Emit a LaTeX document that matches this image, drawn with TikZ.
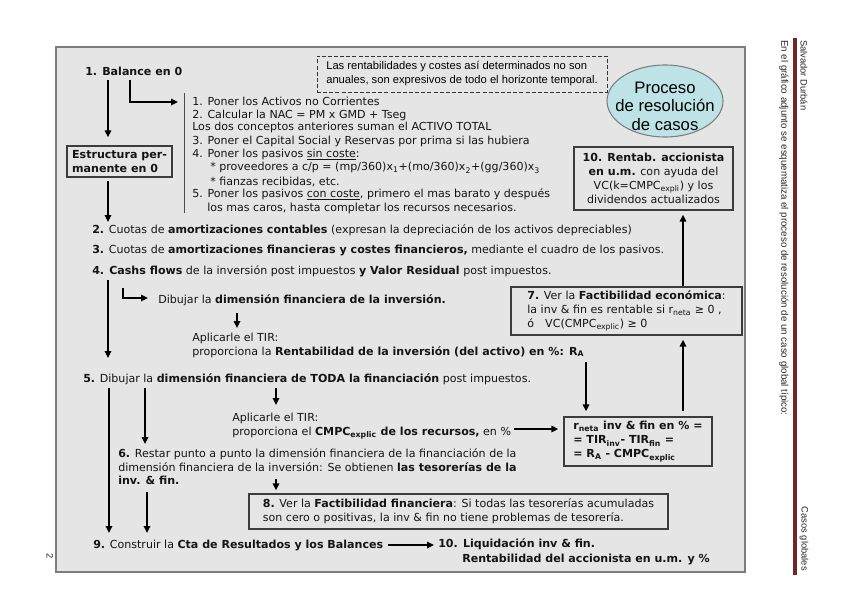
\documentclass[tikz,border=0pt]{standalone}
\usepackage{fontspec}
\setmainfont{DejaVu Sans}
\newfontfamily\arialf{Liberation Sans}
\usetikzlibrary{
  arrows.meta,
  calc,
  shapes.geometric
}
\definecolor{framefill}{RGB}{229,229,229}
\definecolor{framedraw}{RGB}{125,125,125}
\definecolor{boxdraw}{RGB}{60,60,60}
\definecolor{ellfill}{RGB}{190,227,231}
\definecolor{rulered}{RGB}{115,38,38}
\definecolor{txtcol}{RGB}{20,20,20}

\begin{document}
\begin{tikzpicture}[
  x=0.75pt, y=-0.75pt,
  txt/.style={anchor=base west, inner sep=0pt, font=\fontsize{8.3}{10.5}\selectfont, text=txtcol},
  box/.style={draw=boxdraw, line width=1pt, inner sep=0pt, align=left, font=\fontsize{8.3}{10.5}\selectfont, text=txtcol},
  arr/.style={-{Triangle[length=5.2pt, width=4.8pt]}, line width=1.3pt},
  side/.style={rotate=-90, inner sep=0pt, font=\arialf\fontsize{7}{8}\selectfont, text=black!85},
]
\useasboundingbox (0,0) rectangle (848,599);

% --- page header (rotated) ---
\draw[rulered, line width=2.4pt] (795,38) -- (795,575);
\node[side, anchor=west] (autor) at (804,40) {Salvador Durbán};
\node[side, anchor=east] (tema) at (804,571) {Casos globales};
\node[side, anchor=west, font=\arialf\fontsize{7.3}{9}\selectfont] (intro) at (784,40)
  {En el gráfico adjunto se esquematiza el proceso de resolución de un caso global típico:};
\node[side, anchor=center] (pag) at (50,556) {2};

% --- frame ---
\draw[framedraw, line width=1.7pt, fill=framefill] (56,47) rectangle (745,572);

% --- top part ---
\node[txt] (bal) at (85,76) {\textbf{1. Balance en 0}};
\node[draw=black!80, dash pattern=on 3pt off 1.6pt, line width=0.6pt, minimum width=290*0.75pt,
  minimum height=36*0.75pt, inner sep=0pt, align=left, font=\arialf\fontsize{8.4}{10.5}\selectfont] (nota) at (462,74)
  {Las rentabilidades y costes así determinados no son\\anuales, son expresivos de todo el horizonte temporal.};
\node[ellipse, draw=framedraw, line width=0.8pt, fill=ellfill, minimum width=116*0.75pt, minimum height=72*0.75pt] (proc) at (665,101) {};
\node[align=center, inner sep=0pt, font=\arialf\fontsize{12.5}{13.9}\selectfont] (proct) at (665,106) {Proceso\\de resolución\\de casos};

\draw[black!70, line width=0.6pt] (184,93) -- (184,213);
\foreach \x/\y/\t [count=\i] in {
  192/106/{1. Poner los Activos no Corrientes},
  192/118/{2. Calcular la NAC = PM x GMD + Tseg},
  192/131/{Los dos conceptos anteriores suman el ACTIVO TOTAL},
  192/144/{3. Poner el Capital Social y Reservas por prima si las hubiera},
  192/157/{4. Poner los pasivos \underline{sin coste}:},
  210/171/{* proveedores a c/p = (mp/360)x\textsubscript{1}+(mo/360)x\textsubscript{2}+(gg/360)x\textsubscript{3}},
  210/185/{* fianzas recibidas, etc.},
  192/197/{5. Poner los pasivos \underline{con coste}, primero el mas barato y después},
  207/211/{los mas caros, hasta completar los recursos necesarios.}}{
  \node[txt] (lst\i) at (\x,\y) {\t};
}

\node[box] (estr) at (119.5,161.5) [minimum width=105*0.75pt, minimum height=31*0.75pt]
  {\textbf{Estructura per-}\\\textbf{manente en 0}};
\node[box, align=center, minimum width=159*0.75pt, minimum height=63*0.75pt] (b10) at (653.5,178.5)
  {\textbf{10. Rentab. accionista}\\\textbf{en u.m.} con ayuda del\\VC(k=CMPC\textsubscript{expli}) y los\\dividendos actualizados};

% --- steps 2 to 4 ---
\node[txt] (p2) at (92,233) {\textbf{2.} Cuotas de \textbf{amortizaciones contables} (expresan la depreciación de los activos depreciables)};
\node[txt] (p3) at (92,253) {\textbf{3.} Cuotas de \textbf{amortizaciones financieras y costes financieros,} mediante el cuadro de los pasivos.};
\node[txt] (p4) at (92,274) {\textbf{4. Cashs flows} de la inversión post impuestos \textbf{y Valor Residual} post impuestos.};
\node[txt] (dib) at (158,303) {Dibujar la \textbf{dimensión financiera de la inversión.}};
\node[txt] (tir1) at (192,341) {Aplicarle el TIR:};
\node[txt] (ra) at (192,355) {proporciona la \textbf{Rentabilidad de la inversión (del activo) en \%: R\textsubscript{A}}};
\node[box, minimum width=231*0.75pt, minimum height=48*0.75pt] (b7) at (626.5,311)
  {\textbf{7.} Ver la \textbf{Factibilidad económica}:\\la inv \& fin es rentable si r\textsubscript{neta} ≥ 0 ,\\ó\quad VC(CMPC\textsubscript{explic}) ≥ 0};

% --- steps 5 to 8 ---
\node[txt] (p5) at (83,382) {\textbf{5.} Dibujar la \textbf{dimensión financiera de TODA la financiación} post impuestos.};
\node[txt] (tir2) at (232,421) {Aplicarle el TIR:};
\node[txt] (cmpc) at (232,435) {proporciona el \textbf{CMPC\textsubscript{explic} de los recursos,} en \%};
\node[box, font=\bfseries\fontsize{8.3}{10.5}\selectfont, minimum width=148*0.75pt, minimum height=49*0.75pt] (rn) at (638,441.5)
  {r\textsubscript{neta} inv \& fin en \% =\\= TIR\textsubscript{inv}- TIR\textsubscript{fin} =\\= R\textsubscript{A} - CMPC\textsubscript{explic}};
\node[txt] (p6a) at (118,457) {\textbf{6.} Restar punto a punto la dimensión financiera de la financiación de la};
\node[txt] (p6b) at (118,471) {dimensión financiera de la inversión: Se obtienen \textbf{las tesorerías de la}};
\node[txt] (p6c) at (118,484) {\textbf{inv. \& fin.}};
\node[box, minimum width=419*0.75pt, minimum height=35*0.75pt] (b8) at (458.5,511.5)
  {\textbf{8.} Ver la \textbf{Factibilidad financiera}: Si todas las tesorerías acumuladas\\son cero o positivas, la inv \& fin no tiene problemas de tesorería.};

% --- steps 9 and 10 ---
\node[txt] (p9) at (93,548) {\textbf{9.} Construir la \textbf{Cta de Resultados y los Balances}};
\node[txt] (liq) at (438,547) {\textbf{10. Liquidación inv \& fin.}};
\node[txt] (rent) at (462,562) {\textbf{Rentabilidad del accionista en u.m. y \%}};

% --- arrows ---
\coordinate (a1) at (108,80);
\draw[arr] (a1) -- ($(a1 |- estr.north)+(0,-8)$);
\coordinate (a2) at (130,80);
\coordinate (a2e) at (178,102);
\draw[arr] (a2) |- (a2e);
\coordinate (a3) at (108,181);
\coordinate (a3e) at (108,222);
\draw[arr] (a3) -- (a3e);
\coordinate (a4) at (108,280);
\coordinate (a4e) at (108,358);
\draw[arr] (a4) -- (a4e);
\coordinate (a5) at (123,288);
\coordinate (a5e) at (148,298);
\draw[arr] (a5) |- (a5e);
\coordinate (a6) at (237,313);
\coordinate (a6e) at (237,328);
\draw[arr] (a6) -- (a6e);
\coordinate (a7) at (109,388);
\coordinate (a7e) at (109,533);
\draw[arr] (a7) -- (a7e);
\coordinate (a8) at (145,388);
\coordinate (a8e) at (145,444);
\draw[arr] (a8) -- (a8e);
\coordinate (a9) at (276,388);
\coordinate (a9e) at (276,405);
\draw[arr] (a9) -- (a9e);
\coordinate (a10) at (514,429);
\draw[arr] (a10) -- ($(a10 -| rn.west)+(-5,0)$);
\coordinate (a11) at (586,362);
\draw[arr] (a11) -- ($(a11 |- rn.north)+(0,-5)$);
\coordinate (a12) at (683,411);
\draw[arr] (a12) -- ($(a12 |- b7.south)+(0,4)$);
\coordinate (a13) at (683,286);
\draw[arr] (a13) -- ($(a13 |- b10.south)+(0,4)$);
\coordinate (a14) at (147,492);
\coordinate (a14e) at (147,533);
\draw[arr] (a14) -- (a14e);
\coordinate (a15) at (276,479);
\draw[arr] (a15) -- ($(a15 |- b8.north)+(0,-3)$);
\coordinate (a16) at (388,545);
\draw[arr] (a16) -- ($(a16 -| liq.west)+(-4,0)$);
\end{tikzpicture}
\end{document}
